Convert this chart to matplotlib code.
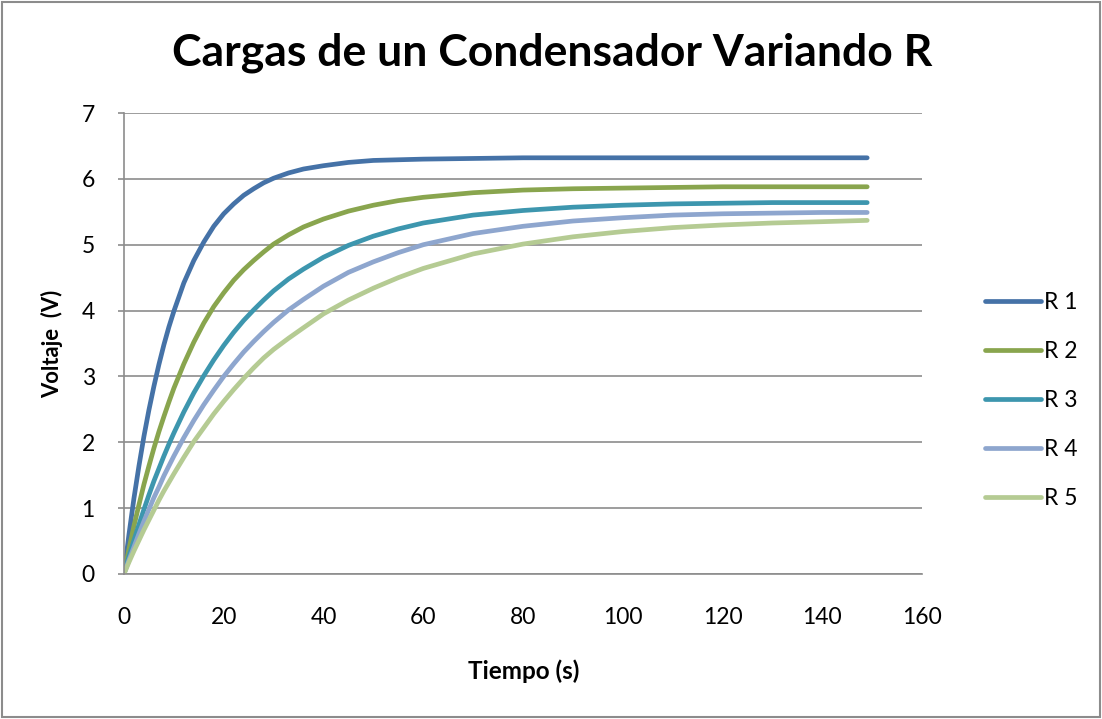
import matplotlib.pyplot as plt
from matplotlib.patches import Rectangle

plt.rcParams['font.family'] = ['Lato', 'DejaVu Sans']

# tiempo de carga (s)
tiempo = [0, 1, 2, 3, 4, 5, 6, 7, 8, 9, 10, 12, 14, 16, 18, 20, 22, 24, 26, 28, 30, 33, 36,
          40, 45, 50, 55, 60, 70, 80, 90, 100, 110, 120, 130, 140, 149]

# voltaje en el condensador (V) para cada resistencia
r1 = [0, 0.60, 1.15, 1.64, 2.09, 2.49, 2.85, 3.18, 3.48, 3.75, 3.99, 4.42, 4.76, 5.04, 5.28,
      5.47, 5.62, 5.75, 5.85, 5.94, 6.01, 6.09, 6.15, 6.20, 6.25, 6.28, 6.29, 6.30, 6.31, 6.32,
      6.32, 6.32, 6.32, 6.32, 6.32, 6.32, 6.32]
r2 = [0, 0.38, 0.73, 1.05, 1.36, 1.64, 1.91, 2.16, 2.39, 2.61, 2.82, 3.19, 3.52, 3.81, 4.06,
      4.27, 4.46, 4.62, 4.76, 4.89, 5.01, 5.15, 5.27, 5.39, 5.51, 5.60, 5.67, 5.72, 5.79, 5.83,
      5.85, 5.86, 5.87, 5.88, 5.88, 5.88, 5.88]
r3 = [0, 0.27, 0.51, 0.75, 0.98, 1.20, 1.41, 1.60, 1.79, 1.97, 2.14, 2.46, 2.75, 3.01, 3.25,
      3.47, 3.67, 3.85, 4.01, 4.16, 4.30, 4.48, 4.63, 4.81, 4.99, 5.13, 5.24, 5.33, 5.45, 5.52,
      5.57, 5.60, 5.62, 5.63, 5.64, 5.64, 5.64]
r4 = [0, 0.21, 0.41, 0.61, 0.80, 0.98, 1.16, 1.32, 1.49, 1.64, 1.79, 2.07, 2.33, 2.57, 2.79,
      3.00, 3.19, 3.37, 3.53, 3.68, 3.82, 4.01, 4.17, 4.37, 4.58, 4.74, 4.88, 5.00, 5.17, 5.28,
      5.36, 5.41, 5.45, 5.47, 5.48, 5.49, 5.49]
r5 = [0, 0.18, 0.35, 0.51, 0.67, 0.82, 0.97, 1.12, 1.26, 1.39, 1.52, 1.77, 2.01, 2.22, 2.43,
      2.62, 2.80, 2.97, 3.13, 3.28, 3.41, 3.58, 3.74, 3.95, 4.16, 4.34, 4.50, 4.64, 4.86, 5.01,
      5.12, 5.20, 5.26, 5.30, 5.33, 5.35, 5.37]

series = [r1, r2, r3, r4, r5]
nombres = ['R 1', 'R 2', 'R 3', 'R 4', 'R 5']
colores = ['#4572A7', '#89A54E', '#3D96AE', '#8EA6CE', '#B5CB93']

fig = plt.figure(figsize=(11.02, 7.19), dpi=100)
ax = fig.add_axes([0.1125, 0.2017, 0.7242, 0.6411])

for v, nombre, c in zip(series, nombres, colores):
    ax.plot(tiempo, v, color=c, lw=3.4, label=nombre, solid_capstyle='round',
            solid_joinstyle='round')

ax.set_xlim(0, 160)
ax.set_ylim(0, 7)
ax.set_xticks(range(0, 161, 20))
ax.set_yticks(range(0, 8))
ax.grid(axis='y', color='#8c8c8c', lw=1.2)
ax.set_axisbelow(True)
for s in ['top', 'right']:
    ax.spines[s].set_visible(False)
for s in ['left', 'bottom']:
    ax.spines[s].set_color('#8c8c8c')
    ax.spines[s].set_linewidth(1.2)
ax.tick_params(axis='x', length=0, pad=24, labelsize=16.5)
ax.tick_params(axis='y', length=4, width=1.2, color='#8c8c8c', pad=17, labelsize=16.5)

fig.text(0.501, 0.926, 'Cargas de un Condensador Variando R', ha='center', va='center',
         fontsize=32, fontweight='bold')
fig.text(0.4755, 0.066, 'Tiempo (s)', ha='center', va='center', fontsize=17.5, fontweight='bold')
fig.text(0.047, 0.522, 'Voltaje  (V)', ha='center', va='center', rotation=90,
         fontsize=15.8, fontweight='bold')

ax.legend(loc='center left', bbox_to_anchor=(0.875, 0.443), bbox_transform=fig.transFigure,
          frameon=False, fontsize=16.5, handlelength=2.45, handletextpad=0.15, labelspacing=1.22)

fig.patches.append(Rectangle((0.002, 0.003), 0.996, 0.994, transform=fig.transFigure,
                             fill=False, edgecolor='#8c8c8c', lw=1.5))

fig.savefig('out.png', dpi=100)
